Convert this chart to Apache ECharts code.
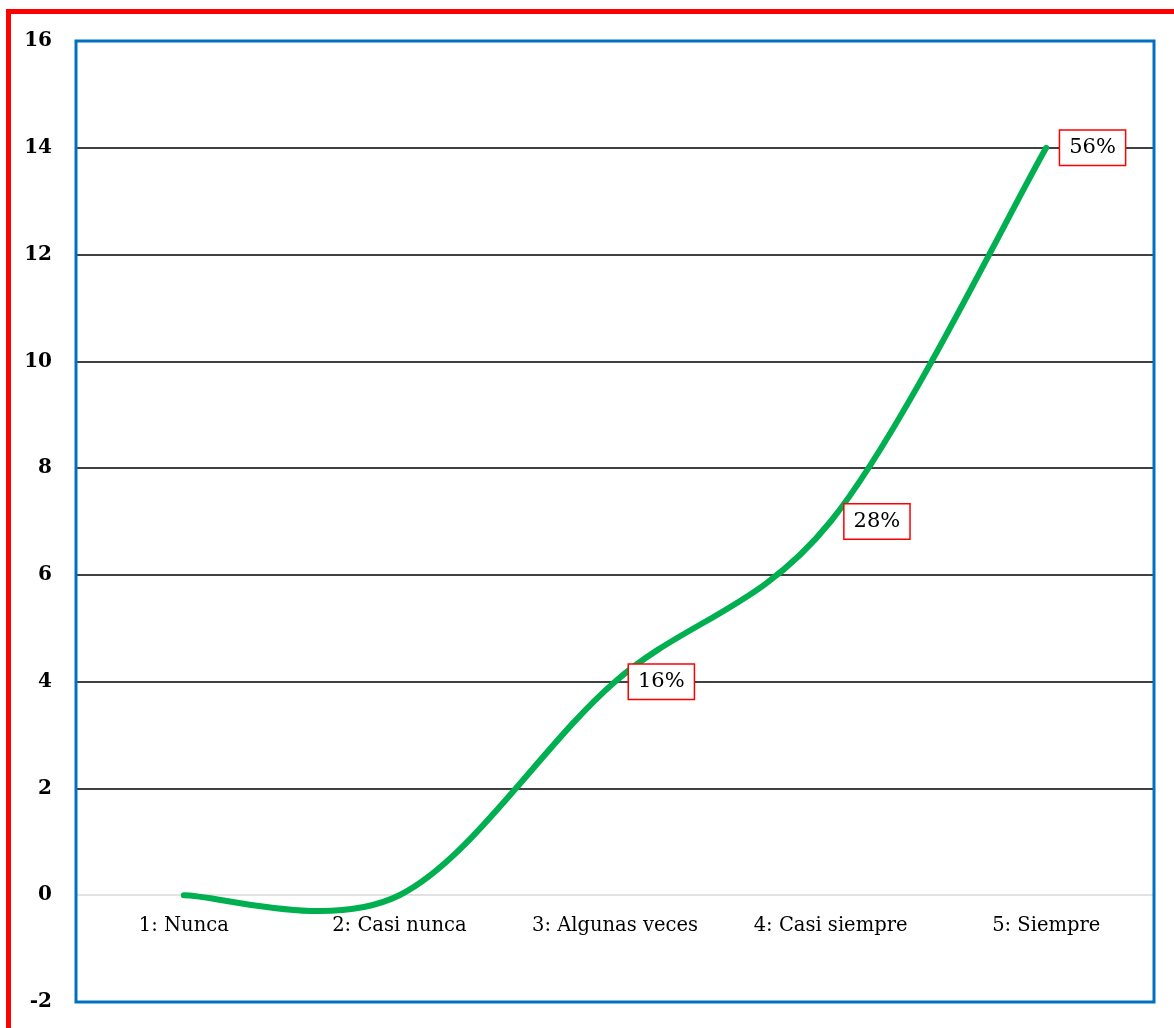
<!DOCTYPE html>
<html>
<head>
<meta charset="utf-8">
<script src="https://cdn.jsdelivr.net/npm/echarts@6/dist/echarts.min.js"></script>
<style>
  html, body { margin: 0; padding: 0; background: #fff; }
  #chart { width: 1174px; height: 1028px; }
</style>
</head>
<body>
<div id="chart"></div>
<script>
// Response categories and counts
const categories = ['1: Nunca', '2: Casi nunca', '3: Algunas veces', '4: Casi siempre', '5: Siempre'];
const counts = [0, 0, 4, 7, 14];
const yTicks = { min: -2, max: 16, interval: 2 };

const total = counts.reduce((a, b) => a + b, 0);
const serif = '"DejaVu Serif", "Liberation Serif", serif';

// Zero-valued points carry no percentage label
const labelData = counts.map((v, i) => ({
  value: [i, v],
  label: { show: v > 0 }
}));

// One colour per horizontal split line, from -2 upward; the 0 line is grey
const splitColors = [];
for (let t = yTicks.min; t <= yTicks.max; t += yTicks.interval) {
  splitColors.push(t === 0 ? '#D9D9D9' : '#000000');
}

const gridBox = { left: 76, top: 41, width: 1078, height: 961 };
// distance from the grid bottom up to the value 0
const zeroOffset = gridBox.height * (0 - yTicks.min) / (yTicks.max - yTicks.min);

// Smoothed curve through all points (cubic Bezier, Catmull-Rom style tangents)
function renderCurve(params, api) {
  if (params.dataIndexInside !== 0) return null;
  const pts = counts.map((v, i) => api.coord([i, v]));
  const k = 1 / 6;
  let d = 'M' + pts[0][0] + ' ' + pts[0][1];
  for (let i = 0; i < pts.length - 1; i++) {
    const p0 = pts[Math.max(i - 1, 0)];
    const p1 = pts[i];
    const p2 = pts[i + 1];
    const p3 = pts[Math.min(i + 2, pts.length - 1)];
    const c1 = [p1[0] + (p2[0] - p0[0]) * k, p1[1] + (p2[1] - p0[1]) * k];
    const c2 = [p2[0] - (p3[0] - p1[0]) * k, p2[1] - (p3[1] - p1[1]) * k];
    d += ' C' + c1[0] + ' ' + c1[1] + ' ' + c2[0] + ' ' + c2[1] + ' ' + p2[0] + ' ' + p2[1];
  }
  return {
    type: 'path',
    shape: { pathData: d },
    style: { fill: null, stroke: '#00B050', lineWidth: 6, lineCap: 'round', lineJoin: 'round' }
  };
}

const chart = echarts.init(document.getElementById('chart'), null, { renderer: 'canvas' });
chart.setOption({
  backgroundColor: '#ffffff',
  animation: false,
  graphic: [{
    type: 'rect',
    shape: { x: 8.5, y: 11.5, width: 1300, height: 1200 },
    style: { fill: 'none', stroke: '#FF0000', lineWidth: 5 },
    silent: true,
    z: 100
  }],
  grid: Object.assign({
    outerBoundsMode: 'none',
    containLabel: false,
    show: true,
    borderColor: '#0070C0',
    borderWidth: 3,
    backgroundColor: 'transparent',
    z: 10
  }, gridBox),
  xAxis: {
    type: 'category',
    data: categories,
    boundaryGap: true,
    offset: -zeroOffset,
    axisLine: { show: false, onZero: false },
    axisTick: { show: false },
    axisLabel: { interval: 0, hideOverlap: false, fontFamily: serif, fontSize: 19.5, color: '#000', margin: 21 },
    splitLine: { show: false }
  },
  yAxis: {
    type: 'value',
    min: yTicks.min, max: yTicks.max, interval: yTicks.interval,
    axisLine: { show: false },
    axisTick: { show: false },
    axisLabel: { fontFamily: serif, fontSize: 20, fontWeight: 'bold', color: '#000', margin: 24 },
    splitLine: { show: true, lineStyle: { color: splitColors, width: 1.5 } }
  },
  series: [{
    type: 'custom',
    renderItem: renderCurve,
    data: labelData.map(d => d.value),
    encode: { x: 0, y: 1 },
    clip: false,
    silent: true,
    z: 5
  }, {
    type: 'scatter',
    data: labelData,
    symbolSize: 0,
    silent: true,
    itemStyle: { opacity: 1, color: 'rgba(0,0,0,0)' },
    label: {
      position: 'right',
      distance: 14,
      formatter: p => Math.round(p.value[1] / total * 100) + '%',
      fontFamily: serif,
      fontSize: 21,
      color: '#000000',
      opacity: 1,
      backgroundColor: '#fff',
      borderColor: '#FF0000',
      borderWidth: 1.5,
      padding: [7, 9, 6, 9]
    },
    z: 6
  }]
});
</script>
</body>
</html>
